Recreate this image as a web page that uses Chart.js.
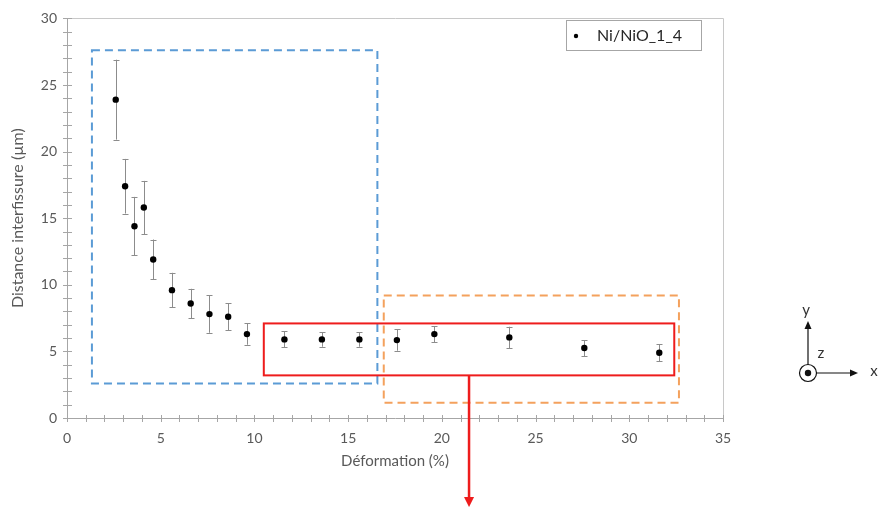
<!DOCTYPE html>
<html><head><meta charset="utf-8">
<script src="https://cdn.jsdelivr.net/npm/chart.js@4/dist/chart.umd.min.js"></script>
<style>html,body{margin:0;padding:0;background:#fff;} canvas{display:block;}</style>
</head><body>
<canvas id="c" width="879" height="508"></canvas>
<script>
// ---- data ----
const seriesName = 'Ni/NiO_1_4';
const deformation = [2.6, 3.1, 3.6, 4.1, 4.6, 5.6, 6.6, 7.6, 8.6, 9.6, 11.6, 13.6, 15.6, 17.6, 19.6, 23.6, 27.6, 31.6];
const distance    = [23.9, 17.4, 14.4, 15.8, 11.9, 9.6, 8.6, 7.8, 7.6, 6.3, 5.9, 5.9, 5.9, 5.85, 6.3, 6.05, 5.25, 4.9];
const distanceErr = [3.0, 2.05, 2.2, 2.0, 1.5, 1.3, 1.1, 1.4, 1.0, 0.8, 0.6, 0.55, 0.55, 0.8, 0.6, 0.8, 0.6, 0.65];
const xTickValues = [0, 5, 10, 15, 20, 25, 30, 35];
const yTickValues = [0, 5, 10, 15, 20, 25, 30];
const xTitle = 'Déformation (%)';
const yTitle = 'Distance interfissure (µm)';
// annotation zones in data units: [xMin, xMax, yMin, yMax]
const blueZone   = [1.33, 16.56, 2.59, 27.6];
const orangeZone = [16.9, 32.65, 1.14, 9.2];
const redZone    = [10.5, 32.4, 3.2, 7.1];
const arrowX = 21.45;

const FONT = 'Lato, "Open Sans", sans-serif';
const TXT = '#595959';
const AXIS = '#a6a6a6';

const deco = {
  id: 'deco',
  beforeDatasetsDraw(chart) {
    const {ctx, chartArea: a, scales: {x, y}} = chart;
    ctx.save();
    // frame
    ctx.strokeStyle = '#c8c8c8'; ctx.lineWidth = 1;
    ctx.beginPath();
    ctx.moveTo(Math.round(a.left) + 0.5, Math.round(a.top) + 0.5);
    ctx.lineTo(Math.round(a.right) + 0.5, Math.round(a.top) + 0.5);
    ctx.lineTo(Math.round(a.right) + 0.5, Math.round(a.bottom) + 0.5);
    ctx.stroke();
    ctx.strokeStyle = AXIS;
    ctx.beginPath();
    ctx.moveTo(Math.round(a.left) + 0.5, Math.round(a.top) + 0.5);
    ctx.lineTo(Math.round(a.left) + 0.5, Math.round(a.bottom) + 0.5);
    ctx.lineTo(Math.round(a.right) + 0.5, Math.round(a.bottom) + 0.5);
    ctx.stroke();
    // cross tick marks every unit
    ctx.beginPath();
    for (let v = x.min; v <= x.max; v++) {
      const px = Math.round(x.getPixelForValue(v)) + 0.5;
      ctx.moveTo(px, a.bottom - 3); ctx.lineTo(px, a.bottom + 4);
    }
    for (let v = y.min; v <= y.max; v++) {
      const py = Math.round(y.getPixelForValue(v)) + 0.5;
      ctx.moveTo(a.left - 4, py); ctx.lineTo(a.left + 5, py);
    }
    ctx.stroke();
    // error bars
    ctx.strokeStyle = '#8c8c8c'; ctx.lineWidth = 1;
    ctx.beginPath();
    deformation.forEach((dx, i) => {
      const px = Math.round(x.getPixelForValue(dx)) + 0.5;
      const top = y.getPixelForValue(distance[i] + distanceErr[i]);
      const bot = y.getPixelForValue(distance[i] - distanceErr[i]);
      ctx.moveTo(px, top); ctx.lineTo(px, bot);
      ctx.moveTo(px - 3, Math.round(top) + 0.5); ctx.lineTo(px + 3, Math.round(top) + 0.5);
      ctx.moveTo(px - 3, Math.round(bot) + 0.5); ctx.lineTo(px + 3, Math.round(bot) + 0.5);
    });
    ctx.stroke();
    ctx.restore();
  },
  afterDatasetsDraw(chart) {
    const {ctx, scales: {x, y}} = chart;
    ctx.save();
    const rect = (z) => [x.getPixelForValue(z[0]), y.getPixelForValue(z[3]),
                         x.getPixelForValue(z[1]) - x.getPixelForValue(z[0]),
                         y.getPixelForValue(z[2]) - y.getPixelForValue(z[3])];
    ctx.lineWidth = 2;
    ctx.setLineDash([8, 5]);
    ctx.strokeStyle = '#5b9bd5';
    ctx.strokeRect(...rect(blueZone));
    ctx.strokeStyle = '#f4a15d';
    ctx.strokeRect(...rect(orangeZone));
    ctx.setLineDash([]);
    ctx.strokeStyle = '#ee1c1c';
    ctx.strokeRect(...rect(redZone));
    // red arrow
    const ax = x.getPixelForValue(arrowX);
    const ay = y.getPixelForValue(redZone[2]);
    const tip = 507;
    ctx.lineWidth = 2.5;
    ctx.beginPath(); ctx.moveTo(ax, ay); ctx.lineTo(ax, tip - 8); ctx.stroke();
    ctx.fillStyle = '#ee1c1c';
    ctx.beginPath(); ctx.moveTo(ax - 5, tip - 10); ctx.lineTo(ax + 5, tip - 10); ctx.lineTo(ax, tip); ctx.closePath(); ctx.fill();
    // legend
    ctx.lineWidth = 1; ctx.strokeStyle = '#a6a6a6';
    ctx.strokeRect(566.5, 20.5, 135, 30);
    ctx.fillStyle = '#000';
    ctx.beginPath(); ctx.arc(576, 36, 2.2, 0, Math.PI * 2); ctx.fill();
    ctx.font = '16px ' + FONT; ctx.fillStyle = '#262626';
    ctx.textAlign = 'left'; ctx.textBaseline = 'middle';
    ctx.fillText(chart.data.datasets[0].label, 597, 36);
    // coordinate system icon
    const cx = 808, cy = 373;
    ctx.strokeStyle = '#111'; ctx.fillStyle = '#111'; ctx.lineWidth = 1.2;
    ctx.beginPath(); ctx.arc(cx, cy, 8.5, 0, Math.PI * 2); ctx.stroke();
    ctx.beginPath(); ctx.arc(cx, cy, 3.2, 0, Math.PI * 2); ctx.fill();
    ctx.beginPath(); ctx.moveTo(cx, cy - 8.5); ctx.lineTo(cx, 326); ctx.stroke();
    ctx.beginPath(); ctx.moveTo(cx - 3.5, 329); ctx.lineTo(cx + 3.5, 329); ctx.lineTo(cx, 321); ctx.closePath(); ctx.fill();
    ctx.beginPath(); ctx.moveTo(cx + 8.5, cy); ctx.lineTo(853, cy); ctx.stroke();
    ctx.beginPath(); ctx.moveTo(850, cy - 3.5); ctx.lineTo(850, cy + 3.5); ctx.lineTo(858, cy); ctx.closePath(); ctx.fill();
    ctx.font = '15px ' + FONT; ctx.fillStyle = '#333'; ctx.textAlign = 'center';
    ctx.fillText('y', cx - 2, 310);
    ctx.fillText('z', 821, 353);
    ctx.fillText('x', 874, 371);
    ctx.restore();
  }
};

new Chart(document.getElementById('c'), {
  type: 'scatter',
  data: {
    datasets: [{
      label: seriesName,
      data: deformation.map((d, i) => ({x: d, y: distance[i]})),
      backgroundColor: '#000', borderColor: '#000',
      pointRadius: 3.2, pointHoverRadius: 3.2, pointBorderWidth: 0
    }]
  },
  options: {
    responsive: false, animation: false, devicePixelRatio: 1,
    layout: {padding: {top: 16, right: 156, left: 0, bottom: 0}},
    plugins: {legend: {display: false}, tooltip: {enabled: false}},
    scales: {
      x: {
        type: 'linear', min: 0, max: 35,
        afterBuildTicks: s => { s.ticks = xTickValues.map(v => ({value: v})); },
        ticks: {padding: 12, color: TXT, font: {family: FONT, size: 14}, maxRotation: 0, autoSkip: false},
        grid: {display: false, drawTicks: false},
        border: {display: false},
        title: {display: true, text: xTitle, color: TXT, font: {family: FONT, size: 15}, padding: {top: 0, bottom: 38}},
        afterFit: s => { s.height = 90; }
      },
      y: {
        type: 'linear', min: 0, max: 30,
        afterBuildTicks: s => { s.ticks = yTickValues.map(v => ({value: v})); },
        ticks: {padding: 10, color: TXT, font: {family: FONT, size: 14}, autoSkip: false},
        grid: {display: false, drawTicks: false},
        border: {display: false},
        title: {display: true, text: yTitle, color: TXT, font: {family: FONT, size: 16}, padding: {top: 8, bottom: 0}},
        afterFit: s => { s.width = 67; }
      }
    }
  },
  plugins: [deco]
});
</script>
</body></html>
